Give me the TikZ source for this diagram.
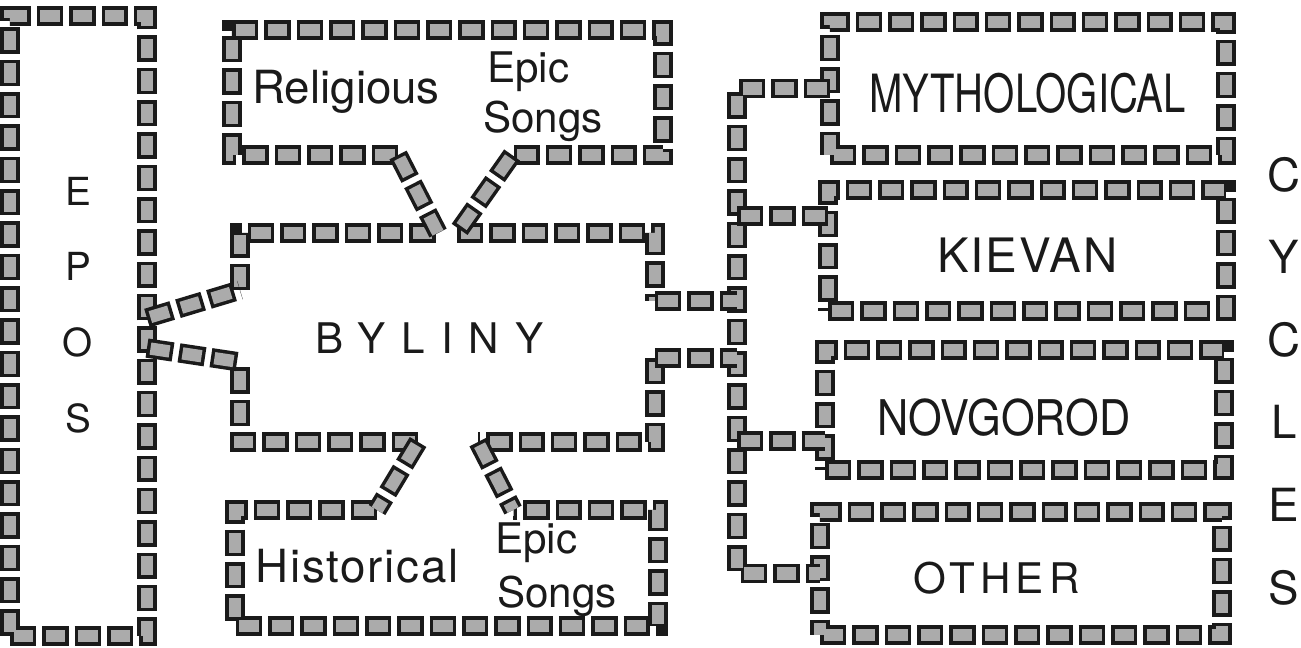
\documentclass[tikz,border=0pt]{standalone}
\usepackage{fontspec}
\usepackage{graphicx}
\setmainfont{TeX Gyre Heros}
\usetikzlibrary{calc}
\definecolor{cInk}{HTML}{1A1A1A}
\definecolor{cTape}{HTML}{ABABAB}
\tikzset{
  tape/.style={line width=11pt,draw=cInk,dash pattern=on 15pt off 3.4pt,line join=miter,
    postaction={draw=cTape,line width=7pt,dash pattern=on 11pt off 7.4pt,dash phase=16.4pt}},
  frame/.style={rectangle,inner sep=0pt,outer sep=0pt},
  lbl/.style={inner sep=0pt,anchor=base west,text=cInk},
  stack/.style={inner sep=0pt,align=center,text=cInk},
}
\newcommand{\fsz}[1]{\fontsize{#1}{#1}\selectfont}

\begin{document}
\begin{tikzpicture}[x=0.02cm,y=-0.02cm]
\useasboundingbox (0,0) rectangle (1301,647);
\node[frame,tape,minimum width=2.74cm,minimum height=12.4cm] (epos) at (78.5,326) {};
\node[frame,minimum width=8.62cm,minimum height=2.5cm] (rel) at (447.5,92.5) {};
\node[frame,minimum width=8.3cm,minimum height=4.18cm] (byl) at (447.5,337.5) {};
\node[frame,minimum width=8.46cm,minimum height=2.32cm] (his) at (446.5,568) {};
\node[frame,tape,minimum width=7.92cm,minimum height=2.66cm] (myt) at (1028,88.5) {};
\node[frame,tape,minimum width=7.96cm,minimum height=2.42cm] (kie) at (1027,250.5) {};
\node[frame,tape,minimum width=7.98cm,minimum height=2.4cm] (nov) at (1024.5,410) {};
\node[frame,tape,minimum width=8.04cm,minimum height=2.46cm] (oth) at (1021,573.5) {};

\node[stack,font=\fontsize{22}{43}\selectfont] (eposT) at (78,305) {E\\P\\O\\S};
\node[stack,font=\fontsize{26}{47}\selectfont] (cycT) at (1284,381) {C\\Y\\C\\L\\E\\S};
\node[lbl,font=\fsz{26}] (relA) at (252,103) {Religious};
\node[lbl,font=\fsz{24}] (relB) at (487,82) {Epic};
\node[lbl,font=\fsz{24}] (relC) at (483,132) {Songs};
\node[lbl,font=\fsz{26}\addfontfeature{LetterSpace=4}] (hisA) at (255,582) {Historical};
\node[lbl,font=\fsz{24}] (hisB) at (495,553) {Epic};
\node[lbl,font=\fsz{24}] (hisC) at (497,607) {Songs};
\node[lbl,font=\fsz{24}\addfontfeature{LetterSpace=38}] (bylT) at (315,353) {BYLINY};
\node[lbl,font=\fsz{30}] (mytT) at (869,112) {\scalebox{.76}[1]{MYTHOLOGICAL}};
\node[lbl,font=\fsz{27}\addfontfeature{LetterSpace=4}] (kieT) at (937,272) {KIEVAN};
\node[lbl,font=\fsz{28}] (novT) at (877,435) {\scalebox{.88}[1]{NOVGOROD}};
\node[lbl,font=\fsz{24}\addfontfeature{LetterSpace=12}] (othT) at (913,593) {OTHER};

\coordinate (bl1) at ($(byl.north west)+(0,57)$);
\coordinate (bl2) at ($(byl.north west)+(0,129)$);
\coordinate (br1) at ($(byl.north east)+(0,68)$);
\coordinate (br2) at ($(byl.north east)+(0,125)$);
\coordinate (bt1) at ($(byl.north west)+(198,0)$);
\coordinate (bt2) at ($(byl.north west)+(217,0)$);
\coordinate (bb1) at ($(byl.south west)+(178,0)$);
\coordinate (bb2) at ($(byl.south west)+(238,0)$);
\coordinate (rs1) at ($(rel.south west)+(166,0)$);
\coordinate (rs2) at ($(rel.south west)+(280,0)$);
\coordinate (hn1) at ($(his.north west)+(142,0)$);
\coordinate (hn2) at ($(his.north west)+(278,0)$);
\coordinate (ep1) at ($(epos.north east)+(0,302)$);
\coordinate (ep2) at ($(epos.north east)+(0,332)$);
\coordinate (kj) at ($(kie.north west)+(0,26)$);
\coordinate (nj) at ($(nov.south west)+(0,-29)$);
\coordinate (bus) at (737,0);

\draw[tape] (rs1) -- (rel.south west) -- (rel.north west) -- (rel.north east) -- (rel.south east) -- (rs2);
\draw[tape] (hn1) -- (his.north west) -- (his.south west) -- (his.south east) -- (his.north east) -- (hn2);
\draw[tape] (bl1) -- (byl.north west) -- (bt1);
\draw[tape] (bt2) -- (byl.north east) -- (br1);
\draw[tape] (br2) -- (byl.south east) -- (bb2);
\draw[tape] (bb1) -- (byl.south west) -- (bl2);

\draw[tape] (ep1) -- (bl1);
\draw[tape] (ep2) -- (bl2);
\draw[tape] (rs1) -- (bt1);
\draw[tape] (rs2) -- (bt2);
\draw[tape] (bb1) -- (hn1);
\draw[tape] (bb2) -- (hn2);
\draw[tape] (myt.west) -- (myt.west -| bus) -- (oth.west -| bus) -- (oth.west);
\draw[tape] (kj -| bus) -- (kj);
\draw[tape] (nj -| bus) -- (nj);
\draw[tape] (br1) -- (br1 -| bus);
\draw[tape] (br2) -- (br2 -| bus);
\end{tikzpicture}
\end{document}
